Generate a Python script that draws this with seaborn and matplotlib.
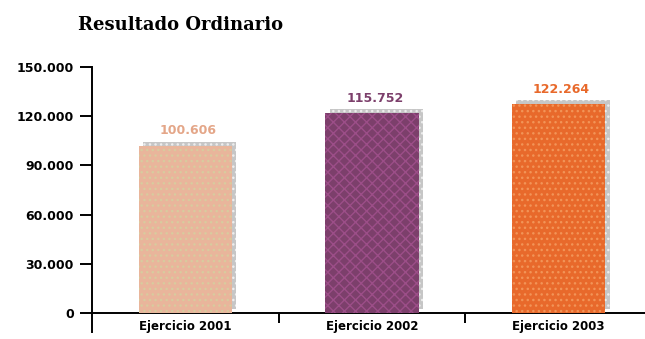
import matplotlib
matplotlib.use('Agg')
import matplotlib.pyplot as plt
import matplotlib.transforms as mtransforms
from matplotlib.patches import Rectangle
import seaborn as sns
import pandas as pd

# ---- data ----
categories = ['Ejercicio 2001', 'Ejercicio 2002', 'Ejercicio 2003']
values = [102000, 122000, 127500]
value_labels = ['100.606', '115.752', '122.264']
y_ticks = [0, 30000, 60000, 90000, 120000, 150000]
y_tick_labels = ['0', '30.000', '60.000', '90.000', '120.000', '150.000']
title = 'Resultado Ordinario'

bar_colors = ['#E9B59B', '#7C3F6B', '#E8692B']
hatch_colors = ['#D8CB9E', '#9C4E88', '#F29457']
label_colors = ['#E4A688', '#7C3F6B', '#E8692B']

sns.set_theme(style='white')
plt.rcParams['font.family'] = ['DejaVu Sans']
plt.rcParams['text.color'] = 'black'
plt.rcParams['hatch.linewidth'] = 1.0

fig = plt.figure(figsize=(6.45, 3.39), dpi=100)
ax = fig.add_axes([92 / 645, 7 / 339, 560 / 645, 265 / 339])

df = pd.DataFrame({'cat': categories, 'val': values})
sns.barplot(data=df, x='cat', y='val', hue='cat', palette=bar_colors,
            width=0.5, legend=False, ax=ax, saturation=1)

hatches = ['...', 'xxx', '...']
shadow_off = mtransforms.ScaledTranslation(3 / 72, 3 / 72, fig.dpi_scale_trans)
bars = list(ax.patches)
for p, hc, h in zip(bars, hatch_colors, hatches):
    p.set_edgecolor(hc)
    p.set_linewidth(0)
    p.set_hatch(h)
    p.set_zorder(3)
    sh = Rectangle((p.get_x(), p.get_y()), p.get_width(), p.get_height(),
                   facecolor='#C6C6C6', edgecolor='#EDEDED', hatch='...',
                   linewidth=0, zorder=2,
                   transform=ax.transData + shadow_off)
    ax.add_patch(sh)

for p, lbl, c in zip(bars, value_labels, label_colors):
    ax.annotate(lbl, xy=(p.get_x() + p.get_width() / 2, p.get_height()),
                xytext=(2, 6), textcoords='offset points', ha='center',
                va='bottom', color=c, fontweight='bold', fontsize=9)

ax.set_xlim(-0.5, 2.5)
ax.set_ylim(-11600, 150000)
ax.set_yticks(y_ticks)
ax.set_yticklabels(y_tick_labels)
ax.set_xticks([0.5, 1.5], minor=True)
ax.set_xlabel('')
ax.set_ylabel('')

for s in ['top', 'right']:
    ax.spines[s].set_visible(False)
ax.spines['left'].set_color('black')
ax.spines['left'].set_linewidth(1.4)
ax.spines['bottom'].set_color('black')
ax.spines['bottom'].set_linewidth(1.4)
ax.spines['bottom'].set_position(('data', 0))

ax.tick_params(axis='y', which='major', left=True, direction='out', length=9,
               width=1.4, color='black', pad=4, labelsize=9, labelcolor='black')
ax.tick_params(axis='x', which='major', bottom=True, length=0, pad=5,
               labelsize=8.5, labelcolor='black')
ax.tick_params(axis='x', which='minor', bottom=True, direction='out', length=7,
               width=1.4, color='black')
for t in ax.get_yticklabels() + ax.get_xticklabels():
    t.set_fontweight('bold')

fig.text(78 / 645, 1 - 25 / 339, title, family='DejaVu Serif',
         fontweight='bold', fontsize=13, va='center', ha='left', color='black')

fig.savefig('out.png', dpi=100)
